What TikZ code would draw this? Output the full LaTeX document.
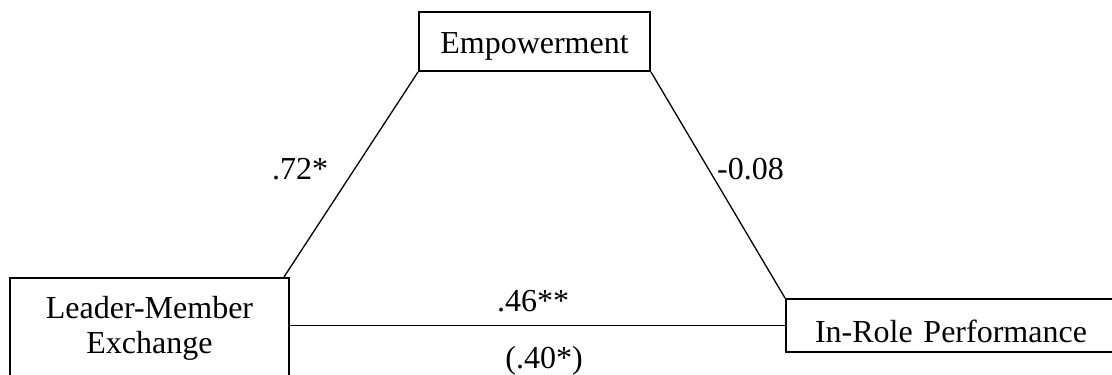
\documentclass[tikz,border=0pt]{standalone}
\usepackage{fontspec}
\setmainfont{Liberation Serif}
\usetikzlibrary{calc}
\tikzset{
  box/.style={draw=black, line width=2pt, rectangle, inner sep=0pt, font=\fontsize{32}{35}\selectfont},
  lbl/.style={inner sep=0pt, anchor=base, font=\fontsize{32}{35}\selectfont},
  path/.style={draw=black, line width=1.3pt}
}
\begin{document}
\begin{tikzpicture}[x=1pt,y=-1pt]
\useasboundingbox (0,0) rectangle (1112,375);
\clip (0,0) rectangle (1112,375);
\fill[white] (0,0) rectangle (1112,375);
% boxes
\node[box, minimum width=231pt, minimum height=59pt, text height=23pt, text depth=0pt] (emp) at (534.5,41.5) {Empowerment};
\node[box, minimum width=279pt, minimum height=130pt] (lmx) at (149.5,343) {};
\node[inner sep=0pt, align=center, font=\fontsize{32}{35}\selectfont] (lmxt) at (149.5,328) {Leader-Member\\Exchange};
\node[box, minimum width=332pt, minimum height=53pt, text height=33pt, text depth=0pt, text width=332pt, align=center] (irp) at (952,325.5) {\hspace*{-2pt}In-Role Performance};
% connectors
\draw[path] (emp.south west) -- ([xshift=-6pt]lmx.north east);
\draw[path] (emp.south east) -- (irp.north west);
\draw[path] (lmx.east |- irp.west) -- (irp.west);
% labels
\node[lbl] (a) at (300,179) {.72*};
\node[lbl] (b) at (750.5,179) {-0.08};
\node[lbl] (c) at (533,311) {.46**};
\node[lbl] (c2) at (544,368) {(.40*)};
\end{tikzpicture}
\end{document}
